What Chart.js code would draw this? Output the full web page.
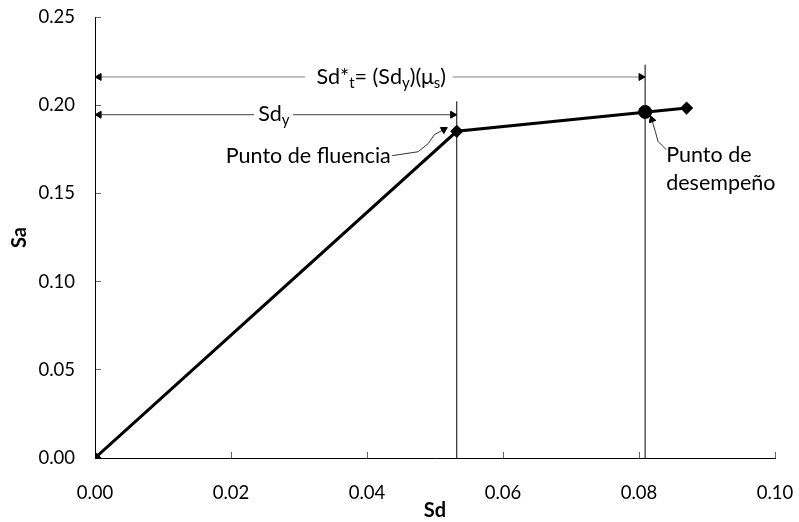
<!DOCTYPE html>
<html>
<head>
<meta charset="utf-8">
<script src="https://cdn.jsdelivr.net/npm/chart.js@4.4.1/dist/chart.umd.min.js"></script>
<style>
  html, body { margin: 0; padding: 0; background: #fff; }
  #contenedor { width: 799px; height: 522px; }
</style>
</head>
<body>
<div id="contenedor"><canvas id="grafico"></canvas></div>
<script>
// ====================================================================
// Datos
// ====================================================================

// Curva de capacidad (Sd, Sa)
const sdCurva = [0, 0.0532, 0.0870];
const saCurva = [0, 0.1852, 0.1984];

// Punto de desempeño
const sdDesempeno = [0.0809];
const saDesempeno = [0.1962];

// Líneas verticales (fluencia y desempeño)
const sdVertFluencia = [0.0532, 0.0532];
const saVertFluencia = [0, 0.2022];
const sdVertDesempeno = [0.0809, 0.0809];
const saVertDesempeno = [0, 0.2230];

// Cota Sd*t (null = hueco para el texto)
const sdCotaTotal = [0.0006, 0.0309, null, 0.0526, 0.0803];
const saCotaTotal = [0.2160, 0.2160, null, 0.2160, 0.2160];

// Cota Sdy
const sdCotaFluencia = [0.0006, 0.0234, null, 0.0291, 0.0526];
const saCotaFluencia = [0.1946, 0.1946, null, 0.1946, 0.1946];

// Flechas curvas de las etiquetas
const sdFlechaFluencia = [0.0437, 0.0475, 0.0490, 0.0499, 0.0513];
const saFlechaFluencia = [0.1714, 0.1736, 0.1782, 0.1833, 0.1862];
const sdFlechaDesempeno = [0.0840, 0.0828, 0.0824, 0.0821, 0.0819];
const saFlechaDesempeno = [0.1748, 0.1795, 0.1851, 0.1889, 0.1918];

// Ejes
const ticksSd = [0, 0.02, 0.04, 0.06, 0.08, 0.10];
const ticksSa = [0, 0.05, 0.10, 0.15, 0.20, 0.25];

const FUENTE = 'Lato, "Open Sans", sans-serif';
const TAM_TICKS = 18.5;
const TAM_TEXTO = 21.5;

function puntos(xs, ys) {
    return xs.map((x, i) => (x === null ? { x: null, y: null } : { x: x, y: ys[i] }));
}

// ====================================================================
// Textos y cotas dibujados sobre el gráfico
// ====================================================================
function textoConSubindices(ctx, partes, x, y, alinear) {
    const normal = TAM_TEXTO + 'px ' + FUENTE;
    const sub = Math.round(TAM_TEXTO * 0.68) + 'px ' + FUENTE;
    let ancho = 0;
    partes.forEach(p => {
        ctx.font = p.sub ? sub : normal;
        ancho += ctx.measureText(p.t).width;
    });
    let cx = alinear === 'center' ? x - ancho / 2 : x;
    ctx.textAlign = 'left';
    ctx.textBaseline = 'middle';
    partes.forEach(p => {
        ctx.font = p.sub ? sub : normal;
        ctx.fillText(p.t, cx, p.sub ? y + 6 : y);
        cx += ctx.measureText(p.t).width;
    });
}

const pluginEtiquetas = {
    id: 'etiquetas',
    afterDatasetsDraw(chart) {
        const ctx = chart.ctx;
        const sx = chart.scales.x;
        const sy = chart.scales.y;
        ctx.save();
        ctx.fillStyle = '#000';

        textoConSubindices(ctx, [
            { t: 'Sd*' }, { t: 't', sub: true }, { t: '= (Sd' }, { t: 'y', sub: true },
            { t: ')(\u03bc' }, { t: 's', sub: true }, { t: ')' }
        ], sx.getPixelForValue(0.0421), sy.getPixelForValue(0.2160), 'center');

        textoConSubindices(ctx, [{ t: 'Sd' }, { t: 'y', sub: true }],
            sx.getPixelForValue(0.0263), sy.getPixelForValue(0.1950), 'center');

        ctx.font = TAM_TEXTO + 'px ' + FUENTE;
        ctx.textBaseline = 'middle';
        ctx.textAlign = 'right';
        ctx.fillText('Punto de fluencia', sx.getPixelForValue(0.0435), sy.getPixelForValue(0.1709));

        ctx.textAlign = 'left';
        ctx.fillText('Punto de', sx.getPixelForValue(0.0840), sy.getPixelForValue(0.1720));
        ctx.fillText('desempeño', sx.getPixelForValue(0.0840), sy.getPixelForValue(0.1560));
        ctx.restore();
    }
};

// Línea con punta(s) de flecha triangular negra
function flecha(xs, ys, color, rotIni, rotFin) {
    const n = xs.length;
    return {
        data: puntos(xs, ys),
        showLine: true,
        spanGaps: false,
        borderColor: color,
        backgroundColor: color,
        borderWidth: 1,
        pointStyle: 'triangle',
        pointRadius: xs.map((_, i) => (i === 0 && rotIni !== null) || (i === n - 1 && rotFin !== null) ? 4 : 0),
        pointRotation: xs.map((_, i) => (i === 0 ? (rotIni || 0) : (rotFin || 0))),
        pointBackgroundColor: '#000',
        pointBorderColor: '#000',
        pointBorderWidth: 1
    };
}

function lineaVertical(xs, ys) {
    return {
        data: puntos(xs, ys),
        showLine: true,
        borderColor: '#000',
        borderWidth: 1,
        pointRadius: 0
    };
}

const ctx = document.getElementById('grafico').getContext('2d');

const grafico = new Chart(ctx, {
    type: 'scatter',
    data: {
        datasets: [
            lineaVertical(sdVertFluencia, saVertFluencia),
            lineaVertical(sdVertDesempeno, saVertDesempeno),
            flecha(sdCotaTotal, saCotaTotal, '#808080', -90, 90),
            flecha(sdCotaFluencia, saCotaFluencia, '#404040', -90, 90),
            flecha(sdFlechaFluencia, saFlechaFluencia, '#333', null, 60),
            flecha(sdFlechaDesempeno, saFlechaDesempeno, '#333', null, -20),
            {
                label: 'Curva de capacidad',
                data: puntos(sdCurva, saCurva),
                showLine: true,
                borderColor: '#000',
                backgroundColor: '#000',
                borderWidth: 3,
                pointStyle: 'rectRot',
                pointRadius: 4.5
            },
            {
                label: 'Punto de desempeño',
                data: puntos(sdDesempeno, saDesempeno),
                borderColor: '#000',
                backgroundColor: '#000',
                pointStyle: 'circle',
                pointRadius: 6.5
            }
        ]
    },
    options: {
        responsive: true,
        maintainAspectRatio: false,
        animation: false,
        layout: { padding: { top: 17, right: 24, left: 0, bottom: 0 } },
        plugins: {
            legend: { display: false },
            tooltip: { enabled: false }
        },
        scales: {
            x: {
                type: 'linear',
                min: 0,
                max: 0.10,
                // alto fijo y sin relleno extra por las etiquetas
                afterFit: s => { s.height = 64; s.paddingLeft = 0; s.paddingRight = 0; },
                afterBuildTicks: s => { s.ticks = ticksSd.map(v => ({ value: v })); },
                ticks: {
                    color: '#000',
                    font: { family: FUENTE, size: TAM_TICKS },
                    padding: 30,
                    callback: v => v.toFixed(2)
                },
                grid: {
                    display: true,
                    drawOnChartArea: false,
                    drawTicks: true,
                    tickLength: -6,
                    tickColor: '#666'
                },
                border: { display: true, color: '#000', width: 1 },
                title: {
                    display: true,
                    text: 'Sd',
                    color: '#000',
                    font: { family: FUENTE, size: 20, weight: 'bold' },
                    padding: { top: 0, bottom: -1 }
                }
            },
            y: {
                type: 'linear',
                min: 0,
                max: 0.25,
                afterFit: s => { s.width = 95; s.paddingTop = 0; s.paddingBottom = 0; },
                afterBuildTicks: s => { s.ticks = ticksSa.map(v => ({ value: v })); },
                ticks: {
                    color: '#000',
                    font: { family: FUENTE, size: TAM_TICKS },
                    padding: 26,
                    callback: v => v.toFixed(2)
                },
                grid: {
                    display: true,
                    drawOnChartArea: false,
                    drawTicks: true,
                    tickLength: -6,
                    tickColor: '#666'
                },
                border: { display: true, color: '#000', width: 1 },
                title: {
                    display: true,
                    text: 'Sa',
                    color: '#000',
                    font: { family: FUENTE, size: 20, weight: 'bold' },
                    padding: { top: 8, bottom: 0 }
                }
            }
        }
    },
    plugins: [pluginEtiquetas]
});
</script>
</body>
</html>
